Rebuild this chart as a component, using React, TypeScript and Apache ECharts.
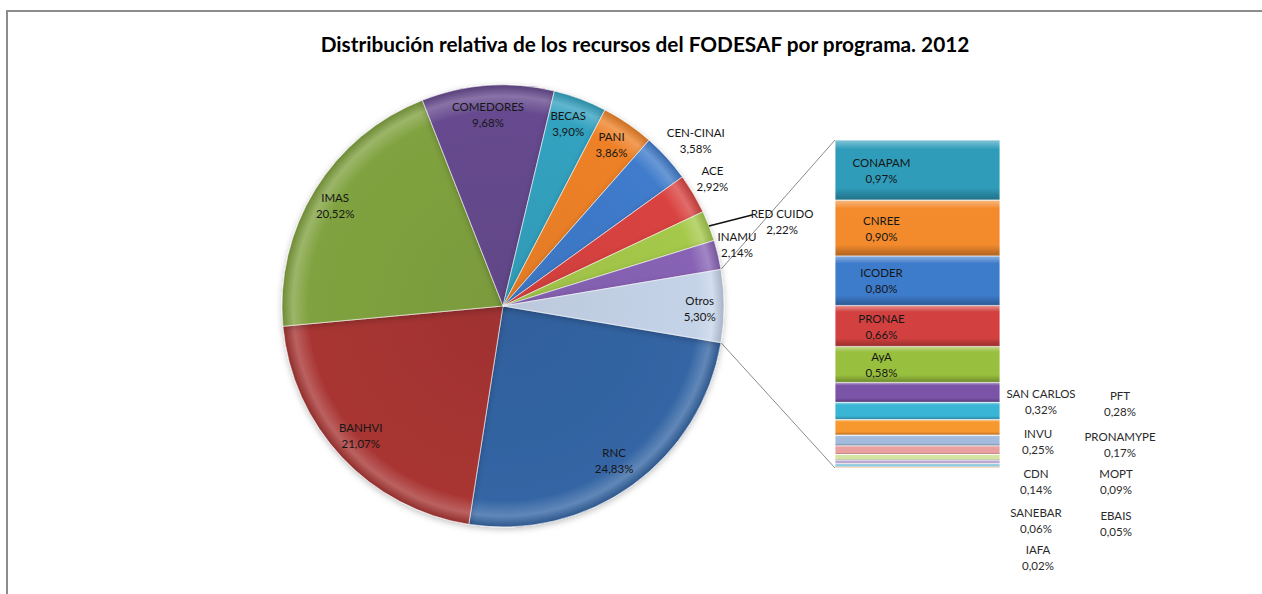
import React, { useEffect, useRef } from 'react';
import * as echarts from 'echarts';

const TITLE = 'Distribución relativa de los recursos del FODESAF por programa. 2012';

// Main pie (clockwise, starting at the lower edge of "Otros")
const mainNames = ['RNC', 'BANHVI', 'IMAS', 'COMEDORES', 'BECAS', 'PANI', 'CEN-CINAI', 'ACE', 'RED CUIDO', 'INAMU', 'Otros'];
const mainValues = [24.83, 21.07, 20.52, 9.68, 3.9, 3.86, 3.58, 2.92, 2.22, 2.14, 5.3];
const mainColors = ['#3465A4', '#A83533', '#80A23F', '#664A8E', '#33A2C0', '#EE8128', '#3F7BCB', '#D94340', '#A5C94B', '#8863B5', '#C5D3E8'];

// Breakdown of "Otros" (top to bottom in the stacked bar)
const subNames = ['CONAPAM', 'CNREE', 'ICODER', 'PRONAE', 'AyA', 'SAN CARLOS', 'PFT', 'INVU', 'PRONAMYPE', 'CDN', 'MOPT', 'SANEBAR', 'EBAIS', 'IAFA'];
const subValues = [0.97, 0.9, 0.8, 0.66, 0.58, 0.32, 0.28, 0.25, 0.17, 0.14, 0.09, 0.06, 0.05, 0.02];
const subColors = ['#2F9CBA', '#F38A2C', '#3D7BCB', '#D2413F', '#98BF3D', '#7B54A8', '#3AB5D6', '#F7982E', '#A3BBDC', '#EAA09F', '#D5E4A2', '#BBA8D4', '#90CCDE', '#F9C08F'];

// ---- layout ----
const CX = 503;
const CY = 306;
const R = 221;
const BAR_LEFT = 835;
const BAR_TOP = 140;
const BAR_W = 165;
const BAR_H = 328;
const FONT = 'Lato, "Open Sans", sans-serif';

// label placement (radius factor, angle delta in degrees) relative to slice middle
const mainLabelPlace: Record<string, { f: number; da: number }> = {
  RNC: { f: 0.86, da: 0 },
  BANHVI: { f: 0.87, da: -0.9 },
  IMAS: { f: 0.885, da: 0.8 },
  COMEDORES: { f: 0.87, da: 0.5 },
  BECAS: { f: 0.875, da: 0.75 },
  PANI: { f: 0.88, da: 0.5 },
  'CEN-CINAI': { f: 1.15, da: -1.5 },
  ACE: { f: 1.11, da: 0.9 },
  'RED CUIDO': { f: 1.32, da: -4.3 },
  INAMU: { f: 1.095, da: 1.4 },
  Otros: { f: 0.89, da: -0.6 },
};
// label slots for the small segments of the bar (two columns beside the bar)
const smallLabelSlots: [number, number][] = [
  [1041, 401], [1120, 403], [1038, 441], [1120, 444], [1036, 481], [1116, 481], [1036, 520], [1116, 523], [1038, 557],
];
const BIG_BAR_LABELS = 5;

function shade(hex: string, amt: number) {
  const n = parseInt(hex.slice(1), 16);
  let r = (n >> 16) & 255, g = (n >> 8) & 255, b = n & 255;
  const t = amt < 0 ? 0 : 255;
  const p = Math.abs(amt);
  r = Math.round(r + (t - r) * p);
  g = Math.round(g + (t - g) * p);
  b = Math.round(b + (t - b) * p);
  return `rgb(${r},${g},${b})`;
}

const fmt = (v: number) => v.toFixed(2).replace('.', ',') + '%';

function buildOption() {
  const total = mainValues.reduce((a, b) => a + b, 0);
  const subTotal = subValues.reduce((a, b) => a + b, 0);
  const otrosShare = mainValues[mainValues.length - 1] / total * 360;
  const startAngle = -otrosShare / 2;
  const cumBefore: number[] = [];
  mainValues.reduce((acc, v, i) => { cumBefore[i] = acc; return acc + v; }, 0);
  const midAngle = (i: number) => startAngle - (cumBefore[i] + mainValues[i] / 2) / total * 360;
  const polar = (deg: number, rad: number): [number, number] => {
    const a = deg * Math.PI / 180;
    return [CX + rad * Math.cos(a), CY - rad * Math.sin(a)];
  };
  const labelPos = (i: number) => {
    const pl = mainLabelPlace[mainNames[i]] || { f: 0.87, da: 0 };
    return polar(midAngle(i) + pl.da, R * pl.f);
  };

  const pieFill = (c: string) => ({
    type: 'radial', x: CX, y: CY, r: R, global: true,
    colorStops: [
      { offset: 0, color: shade(c, -0.05) },
      { offset: 0.88, color: c },
      { offset: 0.95, color: shade(c, 0.22) },
      { offset: 1, color: shade(c, -0.15) },
    ],
  });
  const barFill = (c: string) => ({
    type: 'linear', x: 0, y: 0, x2: 0, y2: 1,
    colorStops: [
      { offset: 0, color: shade(c, 0.4) },
      { offset: 0.15, color: c },
      { offset: 0.8, color: c },
      { offset: 1, color: shade(c, -0.28) },
    ],
  });

  const pieSeries: any = {
    type: 'pie',
    center: [CX, CY],
    radius: [0, R],
    startAngle,
    clockwise: true,
    silent: true,
    data: mainNames.map((n, i) => ({ name: n, value: mainValues[i], itemStyle: { color: pieFill(mainColors[i]) } })),
    itemStyle: { borderColor: 'rgba(255,255,255,0.55)', borderWidth: 1, shadowBlur: 6, shadowColor: 'rgba(0,0,0,0.25)', shadowOffsetY: 2 },
    label: {
      show: true,
      position: 'inside',
      formatter: (p: any) => `${p.name}\n${fmt(p.value)}`,
      fontFamily: FONT,
      fontSize: 11.5,
      lineHeight: 16,
      color: '#161616',
    },
    labelLine: { show: false },
    labelLayout: (p: any) => {
      const [x, y] = labelPos(p.dataIndex);
      return { x, y, align: 'center', verticalAlign: 'middle' };
    },
  };

  const barSeries: any[] = subNames.map((n, i) => {
    const label: any = {
      show: true,
      position: 'inside',
      formatter: `${n}\n${fmt(subValues[i])}`,
      fontFamily: FONT,
      fontSize: 11.5,
      lineHeight: 16,
      color: i < BIG_BAR_LABELS ? '#161616' : '#2a2a2a',
    };
    if (i < BIG_BAR_LABELS) label.offset = [-36, 0];
    const s: any = {
      type: 'bar',
      name: n,
      stack: 'otros',
      data: [subValues[i]],
      barWidth: '100%',
      silent: true,
      itemStyle: { color: barFill(subColors[i]), borderColor: 'rgba(255,255,255,0.35)', borderWidth: 0.6 },
      label,
    };
    if (i >= BIG_BAR_LABELS) {
      const slot = smallLabelSlots[i - BIG_BAR_LABELS];
      s.labelLayout = () => ({ x: slot[0], y: slot[1], align: 'center', verticalAlign: 'middle' });
    }
    return s;
  }).reverse();

  const otrosTop = polar(otrosShare / 2, R);
  const otrosBottom = polar(-otrosShare / 2, R);
  const redIdx = mainNames.indexOf('RED CUIDO');
  const redRim = polar(midAngle(redIdx), R);
  const redLbl = labelPos(redIdx);

  return {
    animation: false,
    backgroundColor: '#ffffff',
    title: {
      text: TITLE,
      left: 640,
      top: 28,
      textAlign: 'center',
      textStyle: { fontFamily: FONT, fontSize: 20.8, fontWeight: 'bold', color: '#000' },
    },
    grid: { left: BAR_LEFT, top: BAR_TOP, width: BAR_W, height: BAR_H },
    xAxis: { type: 'category', data: ['Otros'], show: false },
    yAxis: { type: 'value', min: 0, max: subTotal, show: false },
    series: [pieSeries, ...barSeries],
    graphic: [
      { type: 'rect', shape: { x: 7, y: 11, width: 1300, height: 700 }, style: { fill: 'none', stroke: '#8c8c8c', lineWidth: 2 }, silent: true },
      { type: 'line', shape: { x1: otrosTop[0], y1: otrosTop[1], x2: BAR_LEFT, y2: BAR_TOP }, style: { stroke: '#8a8a8a', lineWidth: 1 }, silent: true },
      { type: 'line', shape: { x1: otrosBottom[0], y1: otrosBottom[1], x2: BAR_LEFT, y2: BAR_TOP + BAR_H }, style: { stroke: '#8a8a8a', lineWidth: 1 }, silent: true },
      { type: 'line', z: 100, shape: { x1: redRim[0], y1: redRim[1], x2: redLbl[0] - 30, y2: redLbl[1] - 6 }, style: { stroke: '#111', lineWidth: 1.5 }, silent: true },
    ],
  };
}

export default function App() {
  const ref = useRef<HTMLDivElement>(null);
  useEffect(() => {
    const chart = echarts.init(ref.current!, null, { renderer: 'svg' });
    chart.setOption(buildOption() as any);
    return () => chart.dispose();
  }, []);
  return <div ref={ref} style={{ position: 'fixed', left: 0, top: 0, width: 1262, height: 594, background: '#fff' }} />;
}
